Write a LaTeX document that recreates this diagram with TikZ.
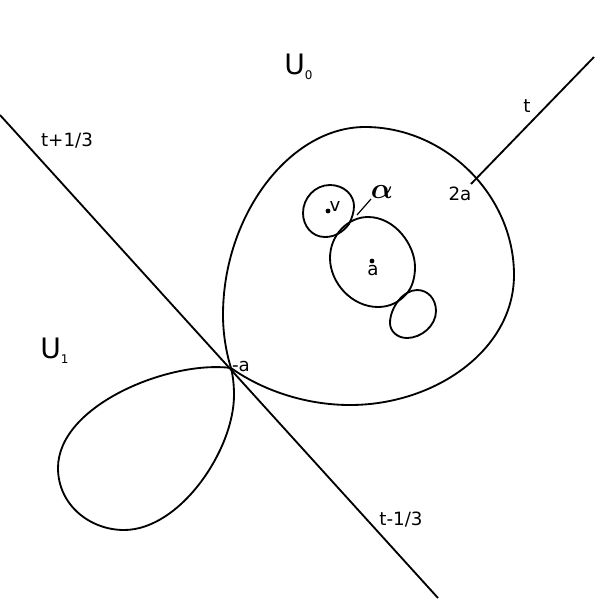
\documentclass[tikz,border=0pt]{standalone}
\usepackage{fontspec}
\setmainfont{DejaVu Sans}
\tikzset{
	curve/.style={line width=0.46mm, line join=round},
	lab/.style={inner sep=0pt, font=\fontsize{13}{13}\selectfont},
	biglab/.style={inner sep=0pt, anchor=west, font=\fontsize{20}{20}\selectfont},
	spot/.style={circle, fill=black, inner sep=0pt, minimum size=1.2mm}
}
\newcommand{\smalln}[1]{\raisebox{-0.3ex}{\fontsize{8.5}{8.5}\selectfont #1}}

\begin{document}
\begin{tikzpicture}[x=0.025cm, y=-0.025cm]
	%%%%% START %%%%%
	\useasboundingbox (0, 0) rectangle (600, 600);

	% the two lines
	\coordinate (lineLeft) at (0, 115);
	\coordinate (lineRight) at (438, 598);
	\coordinate (tIn) at (471, 184);
	\coordinate (tOut) at (594, 57);
	\draw[curve] (lineLeft) -- (lineRight);
	\draw[curve] (tIn) -- (tOut);

	% big loop
	\draw[curve] (231, 368) .. controls (226, 352) and (223, 333) .. (223, 315)
		.. controls (223, 215) and (290, 127) .. (365, 127)
		.. controls (445, 127) and (514, 195) .. (514, 275)
		.. controls (514, 350) and (435, 405) .. (350, 405)
		.. controls (305, 405) and (262, 390) .. (231, 368);

	% left loop
	\draw[curve] (231, 368) .. controls (170, 360) and (58, 405) .. (58, 468)
		.. controls (58, 505) and (90, 530) .. (124, 530)
		.. controls (180, 530) and (234, 450) .. (234, 395)
		.. controls (234, 385) and (233, 376) .. (231, 368);

	% blobs
	\draw[curve] (330, 185) .. controls (344, 185) and (354, 195) .. (354, 206)
		.. controls (354, 212) and (352, 218) .. (349, 224)
		.. controls (343, 232) and (335, 237) .. (325, 237)
		.. controls (312, 237) and (303, 226) .. (303, 213)
		.. controls (303, 198) and (315, 185) .. (330, 185) -- cycle;
	\draw[curve] (368, 217) .. controls (395, 217) and (415, 245) .. (415, 267)
		.. controls (415, 280) and (411, 288) .. (408, 292)
		.. controls (400, 302) and (390, 307) .. (378, 307)
		.. controls (352, 307) and (330, 283) .. (330, 258)
		.. controls (330, 235) and (348, 217) .. (368, 217) -- cycle;
	\draw[curve] (417, 290) .. controls (428, 290) and (436, 299) .. (436, 311)
		.. controls (436, 326) and (421, 338) .. (407, 338)
		.. controls (397, 338) and (390, 331) .. (390, 323)
		.. controls (390, 308) and (403, 290) .. (417, 290) -- cycle;

	\node[spot] (spotV) at (328, 211) {};
	\node[spot] (spotA) at (372, 261) {};

	% labels
	\node[biglab] (uZero) at (284, 67) {U\smalln{0}};
	\node[biglab] (uOne) at (40, 351) {U\smalln{1}};
	\node[lab] (tTop) at (527, 106) {t};
	\node[lab] (tPlus) at (67, 141) {t+1/3};
	\node[lab] (tMinus) at (401, 520) {t-1/3};
	\node[lab] (twoA) at (460, 194) {2a};
	\node[lab] (minusA) at (241, 367) {-a};
	\node[lab] (labA) at (373, 271) {a};
	\node[lab] (labV) at (335, 206) {v};
	\node[inner sep=0pt, font=\fontsize{20}{20}\selectfont\boldmath] (labAlpha) at (382, 192) {$\alpha$};

	\coordinate (alphaIn) at (357, 215);
	\coordinate (alphaOut) at (371, 199);
	\draw[line width=0.3mm] (alphaIn) -- (alphaOut);
	%%%%% END %%%%%
\end{tikzpicture}
\end{document}
